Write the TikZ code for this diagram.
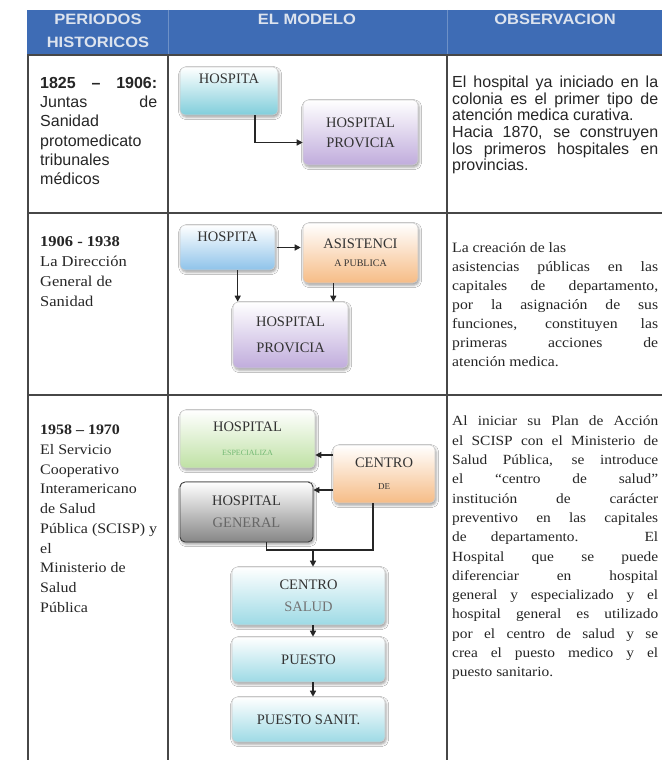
\documentclass[tikz,border=0pt]{standalone}
\usepackage{fontspec}
\setmainfont{Liberation Serif}
\newfontfamily\sansbody{Liberation Sans}
\newfontfamily\headfont[FakeStretch=1.1]{Liberation Sans}
\newfontfamily\serifbody[FakeStretch=1.1]{Liberation Serif}
\newfontfamily\boxfont{Liberation Serif}
\usetikzlibrary{arrows.meta,shadows.blur,calc}
% one justified line of fixed width
\newcommand{\spread}[2]{\makebox[#1][s]{#2}}

\definecolor{hdrblue}{HTML}{3E6CB5}
\definecolor{hdrtext}{HTML}{DCE3EE}
\definecolor{rulegrey}{HTML}{474747}
\definecolor{ink}{HTML}{262626}
\definecolor{boxink}{HTML}{333333}
\definecolor{tealB}{HTML}{80CEDB}
\definecolor{blueB}{HTML}{8EC3EA}
\definecolor{lilacB}{HTML}{C0ACDC}
\definecolor{peachB}{HTML}{F6BC86}
\definecolor{greenB}{HTML}{BFE1A4}
\definecolor{greyB}{HTML}{868686}
\definecolor{cyanB}{HTML}{9DDAE5}

\begin{document}
\begin{tikzpicture}[x=1pt,y=-1pt,
  hdr/.style={font=\headfont\bfseries\fontsize{15}{23}\selectfont, text=hdrtext, align=center, inner sep=0},
  cell/.style={anchor=north west, inner sep=0, align=left, text=ink},
  flow/.style={rounded corners=5pt, draw=black!20, line width=0.6pt, inner sep=0,
    align=center, text=boxink, font=\boxfont\fontsize{14.5}{20}\selectfont,
    top color=white, bottom color=#1,
    blur shadow={shadow xshift=1.2pt, shadow yshift=-2.2pt, shadow blur radius=2.5pt, shadow opacity=38}},
  arr/.style={draw=ink, line width=1.3pt, -{Triangle[length=6pt,width=6pt]}},
  link/.style={draw=ink, line width=1.3pt}
]
\useasboundingbox (0,0) rectangle (662,760);
\fill[white] (0,0) rectangle (662,760);

% header band
\fill[hdrblue] (27,10) rectangle (662,55);
\draw[hdrblue!75!white, line width=0.8pt] (168,10) -- (168,55) (447,10) -- (447,55);
\node[hdr] (h1) at (98,30.5) {PERIODOS\\HISTORICOS};
\node[hdr] (h2) at (307,19) {EL MODELO};
\node[hdr] (h3) at (555,19) {OBSERVACION};

% table rules
\draw[rulegrey, line width=1.8pt] (28,55) -- (28,760) (168,55) -- (168,760) (447,55) -- (447,760);
\draw[rulegrey, line width=1.8pt] (27,55) -- (662,55) (27,213) -- (662,213) (27,395) -- (662,395);

% ---------- row 1 ----------
\node[cell, font=\sansbody\fontsize{16}{19.3}\selectfont] (p1) at (40,77) {%
\spread{117pt}{\bfseries 1825 \ – \ 1906:}\\
\spread{117pt}{Juntas de}\\
Sanidad\\
protomedicato\\
tribunales\\
médicos};

\node[cell, font=\sansbody\fontsize{16}{16.6}\selectfont] (o1) at (452,76) {%
\spread{206pt}{El hospital ya iniciado en la}\\
\spread{206pt}{colonia es el primer tipo de}\\
atención medica curativa.\\
\spread{206pt}{Hacia 1870, se construyen}\\
\spread{206pt}{los primeros hospitales en}\\
provincias.};

\node[flow=tealB, minimum width=98pt, minimum height=48pt] (a1) at (229,91) {HOSPITA\\[4pt]};
\node[flow=lilacB, minimum width=115pt, minimum height=65pt] (a2) at (360.5,132.5) {HOSPITAL\\PROVICIA};
\draw[arr] ([xshift=26pt]a1.south) |- ([yshift=-10pt]a2.west);

% ---------- row 2 ----------
\node[cell, font=\serifbody\fontsize{15}{20}\selectfont] (p2) at (40,236.5) {%
{\bfseries 1906 - 1938}\\
La Dirección\\
General de\\
Sanidad};

\node[cell, font=\serifbody\fontsize{14.3}{19}\selectfont] (o2) at (452,242.5) {%
La creación de las\\
\spread{206pt}{asistencias públicas en las}\\
\spread{206pt}{capitales de departamento,}\\
\spread{206pt}{por la asignación de sus}\\
\spread{206pt}{funciones, constituyen las}\\
\spread{206pt}{primeras acciones de}\\
atención medica.};

\node[flow=blueB, minimum width=95pt, minimum height=45pt] (b1) at (227.5,247.5) {HOSPITA\\[2pt]};
\node[flow=peachB, minimum width=115pt, minimum height=60pt] (b2) at (360.5,253) {ASISTENCI\\[-2pt]{\fontsize{10}{12}\selectfont A PUBLICA}};
\node[flow=lilacB, minimum width=115pt, minimum height=66pt] (b3) at (290.5,335) {HOSPITAL\\[6pt]PROVICIA};
\draw[arr, shorten <=2pt, shorten >=2pt] (b1.east) -- (b1.east -| b2.west);
\draw[arr] ([xshift=5pt]b1.south -| b3.west) -- ([xshift=5pt]b3.north west);
\draw[arr] ([xshift=-15pt]b2.south -| b3.east) -- ([xshift=-15pt]b3.north east);

% ---------- row 3 ----------
\node[cell, font=\serifbody\fontsize{14.5}{19.7}\selectfont] (p3) at (40,425) {%
{\bfseries 1958 – 1970}\\
El Servicio\\
Cooperativo\\
Interamericano\\
de Salud\\
Pública (SCISP) y\\
el\\
Ministerio de\\
Salud\\
Pública};

\node[cell, font=\serifbody\fontsize{14}{19.3}\selectfont] (o3) at (452,416) {%
\spread{206pt}{Al iniciar su Plan de Acción}\\
\spread{206pt}{el SCISP con el Ministerio de}\\
\spread{206pt}{Salud Pública, se introduce}\\
\spread{206pt}{el “centro de salud”}\\
\spread{206pt}{institución de carácter}\\
\spread{206pt}{preventivo en las capitales}\\
\spread{206pt}{de departamento. El}\\
\spread{206pt}{Hospital que se puede}\\
\spread{206pt}{diferenciar en hospital}\\
\spread{206pt}{general y especializado y el}\\
\spread{206pt}{hospital general es utilizado}\\
\spread{206pt}{por el centro de salud y se}\\
\spread{206pt}{crea el puesto medico y el}\\
puesto sanitario.};

\node[flow=greenB, minimum width=135pt, minimum height=58pt] (c1) at (247.5,439) {HOSPITAL\\[4pt]{\fontsize{8}{10}\selectfont\color{green!50!black!55}ESPECIALIZA}};
\node[flow=greyB, draw=black!75, line width=0.9pt, minimum width=133pt, minimum height=60pt] (c2) at (246.5,512) {HOSPITAL\\[2pt]{\color{black!60}GENERAL}};
\node[flow=peachB, minimum width=102pt, minimum height=58pt] (c3) at (384,474) {CENTRO\\[2pt]{\fontsize{9}{11}\selectfont DE}};
\node[flow=cyanB, minimum width=153pt, minimum height=58pt] (c4) at (308.5,596) {CENTRO\\[2pt]{\color{black!55}SALUD}};
\node[flow=cyanB, minimum width=153pt, minimum height=45pt] (c5) at (308.5,659.5) {PUESTO};
\node[flow=cyanB, minimum width=153pt, minimum height=45pt] (c6) at (308.5,719.5) {PUESTO SANIT.};
\coordinate (jn) at (313,550);

\draw[arr] ([yshift=19pt]c3.west) -- ([yshift=19pt]c3.west -| c1.east);
\draw[arr] ([yshift=-16pt]c3.west) -- ([yshift=-16pt]c3.west -| c2.east);
\draw[link] ([xshift=-11pt]c3.south) |- (jn);
\draw[link] ([xshift=20pt]c2.south) |- (jn);
\draw[arr] (jn) -- (jn |- c4.north);
\draw[arr] (c4.south -| jn) -- (c5.north -| jn);
\draw[arr] (c5.south -| jn) -- (c6.north -| jn);
\end{tikzpicture}
\end{document}
